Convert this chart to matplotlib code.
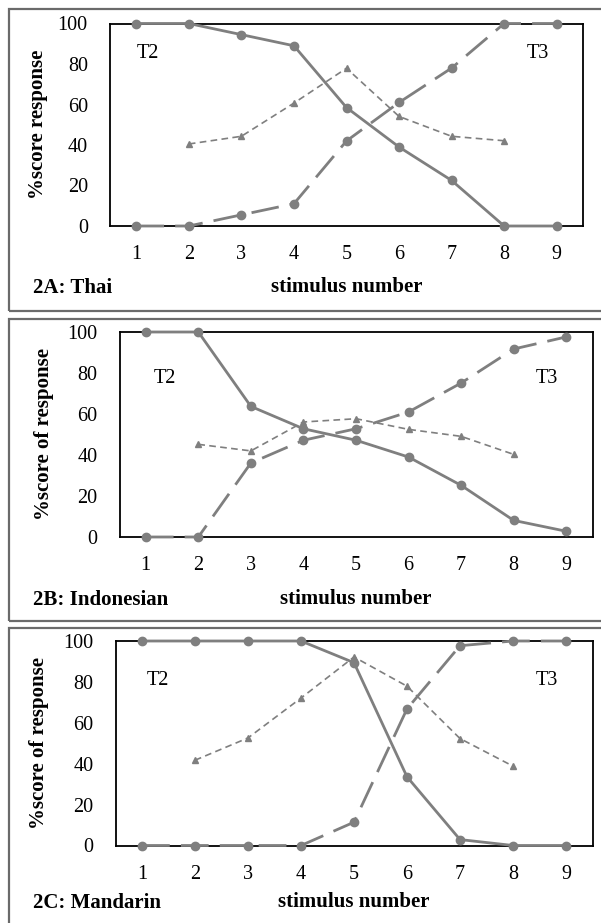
import matplotlib
matplotlib.use("Agg")
import matplotlib.pyplot as plt
from matplotlib.patches import Rectangle

plt.rcParams['font.family'] = ['Liberation Serif', 'DejaVu Serif']

W, H = 601, 923

stimulus = [1, 2, 3, 4, 5, 6, 7, 8, 9]
mid_stimulus = [2, 3, 4, 5, 6, 7, 8]
tick_labels = ['1', '2', '3', '4', '5', '6', '7', '8', '9']

thai_t2 = [100, 100, 94.5, 89, 58.5, 39, 22.5, 0, 0]
thai_t3 = [0, 0, 5.5, 11, 42, 61, 78, 100, 100]
thai_mid = [40.5, 44.3, 60.7, 77.9, 54.1, 44.3, 42.1]

indo_t2 = [100, 100, 63.7, 52.8, 47.2, 39, 25.2, 8.1, 2.8]
indo_t3 = [0, 0, 36.1, 47.2, 52.8, 61, 75.1, 91.7, 97.6]
indo_mid = [45.2, 42.0, 56.1, 57.7, 52.5, 49.1, 40.3]

mand_t2 = [100, 100, 100, 100, 89.4, 33.6, 2.9, 0, 0]
mand_t3 = [0, 0, 0, 0, 11.4, 66.8, 97.7, 100, 100]
mand_mid = [41.7, 52.6, 72.1, 92.2, 77.9, 52.3, 38.8]

panel_names = ['2A: Thai', '2B: Indonesian', '2C: Mandarin']
y_labels = ['%score response', '%score of response', '%score of response']

gray = '#7f7f7f'


def fx(x):
    return x / W


def fy(y):
    return 1 - y / H


fig = plt.figure(figsize=(W / 100, H / 100), dpi=100)

# outer boxes (pixel: top, bottom)
boxes = [(9, 311), (319, 621), (628, 940)]
for top, bot in boxes:
    fig.patches.append(Rectangle((fx(9), fy(bot)), fx(620), fy(top) - fy(bot),
                                 transform=fig.transFigure, fill=False,
                                 edgecolor='#6a6a6a', linewidth=1.6, clip_on=False))

# plot areas in pixels: left, top, right, bottom
rects = [(110, 23.5, 583, 226), (119.5, 332, 592.5, 537), (115.5, 641, 592.5, 845.5)]
series = [(thai_t2, thai_t3, thai_mid), (indo_t2, indo_t3, indo_mid), (mand_t2, mand_t3, mand_mid)]
ylabel_x = [38, 44, 39]
label_y = [288, 600, 903]
text_y = [85, 77.5, 80.5]
t2_x = [1.0, 1.15, 1.08]

for i in range(3):
    l, t, r, b = rects[i]
    ax = fig.add_axes([fx(l), fy(b), fx(r - l), (b - t) / H])
    t2, t3, mid = series[i]

    ax.plot(mid_stimulus, mid, color=gray, lw=1.2, ls=(0, (4, 2.6)),
            marker='^', ms=5, clip_on=False, zorder=3)
    ax.plot(stimulus, t2, color=gray, lw=2.0, ls='-',
            marker='o', ms=6, clip_on=False, zorder=4)
    ax.plot(stimulus, t3, color=gray, lw=2.0, ls=(0, (10, 4)),
            marker='o', ms=6, clip_on=False, zorder=5)

    ax.set_xlim(0.5, 9.5)
    ax.set_ylim(0, 100)
    ax.set_xticks(stimulus)
    ax.set_xticklabels(tick_labels)
    ax.set_yticks([0, 20, 40, 60, 80, 100])
    ax.tick_params(axis='both', length=0, labelsize=14.5)
    ax.tick_params(axis='x', pad=14)
    ax.tick_params(axis='y', pad=16)
    for s in ax.spines.values():
        s.set_color('black')
        s.set_linewidth(1.3)

    ax.text(t2_x[i], text_y[i], 'T2', fontsize=14.5, ha='left', va='center')
    ax.text(8.85, text_y[i], 'T3', fontsize=14.5, ha='right', va='center')

    fig.text(fx(ylabel_x[i]), fy((t + b) / 2), y_labels[i], rotation=90,
             fontsize=15, fontweight='bold', ha='center', va='center')
    fig.text(fx((l + r) / 2), fy(label_y[i] - 1), 'stimulus number',
             fontsize=15, fontweight='bold', ha='center', va='center')
    fig.text(fx(33), fy(label_y[i]), panel_names[i],
             fontsize=15, fontweight='bold', ha='left', va='center')

fig.savefig('out.png', dpi=100)
